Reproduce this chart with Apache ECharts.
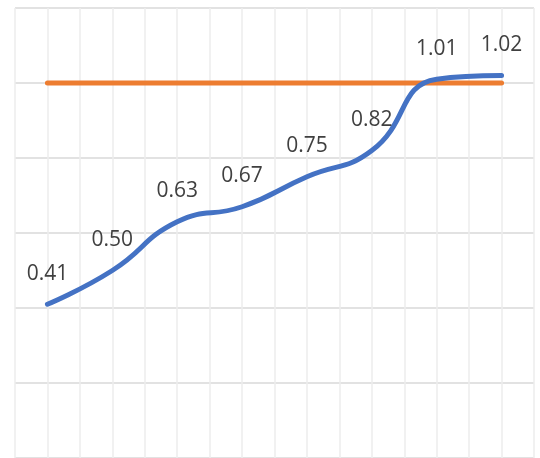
<!DOCTYPE html>
<html>
<head>
<meta charset="utf-8">
<script src="https://cdn.jsdelivr.net/npm/echarts@6/dist/echarts.min.js"></script>
<style>
  html, body { margin: 0; padding: 0; background: #fff; }
  #chart { width: 540px; height: 458px; }
</style>
</head>
<body>
<div id="chart"></div>
<script>
// one category per point, target line sits at 1.0
const categories = ['1', '2', '3', '4', '5', '6', '7', '8']
const actual = [0.41, 0.50, 0.63, 0.67, 0.75, 0.82, 1.01, 1.02]
const target = [1, 1, 1, 1, 1, 1, 1, 1]
const yTicks = { min: 0, max: 1.2, interval: 0.2 }

const chart = echarts.init(document.getElementById('chart'))

chart.setOption({
  animation: false,
  grid: { left: 15, top: 8, width: 519, height: 451 },
  xAxis: [
    {
      type: 'category',
      data: categories,
      boundaryGap: true,
      axisLine: { show: false },
      axisTick: { show: false },
      axisLabel: { show: false },
      splitLine: { show: false }
    },
    {
      // half-category gridlines, like the minor + major lines in the original
      type: 'value',
      min: 0,
      max: categories.length * 2,
      interval: 1,
      axisLine: { show: false },
      axisTick: { show: false },
      axisLabel: { show: false },
      splitLine: { show: true, lineStyle: { color: '#ededed', width: 1.5 } }
    }
  ],
  yAxis: {
    type: 'value',
    min: yTicks.min,
    max: yTicks.max,
    interval: yTicks.interval,
    axisLine: { show: false },
    axisTick: { show: false },
    axisLabel: { show: false },
    splitLine: { lineStyle: { color: '#d9d9d9', width: 1.5 } }
  },
  series: [
    {
      type: 'line',
      data: target,
      symbol: 'none',
      z: 2,
      lineStyle: { color: '#ED7D31', width: 5, cap: 'round' }
    },
    {
      type: 'line',
      data: actual,
      smooth: 0.5,
      symbol: 'circle',
      symbolSize: 0,
      z: 3,
      lineStyle: { color: '#4472C4', width: 5, cap: 'round', join: 'round' },
      label: {
        show: true,
        position: 'top',
        distance: 20,
        color: '#404040',
        fontSize: 21,
        fontFamily: 'Open Sans',
        formatter: (p) => p.value.toFixed(2)
      }
    }
  ]
})
</script>
</body>
</html>
